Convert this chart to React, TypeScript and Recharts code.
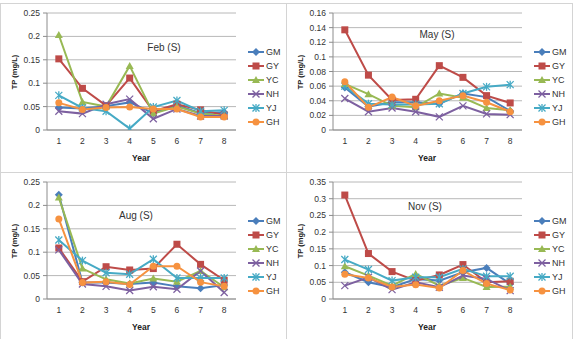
import React from 'react';
import { LineChart, Line, XAxis, YAxis, CartesianGrid, Legend } from 'recharts';

const years = [1, 2, 3, 4, 5, 6, 7, 8];
const seriesNames = ['GM', 'GY', 'YC', 'NH', 'YJ', 'GH'];
const boundaryTicks = [0.5, 1.5, 2.5, 3.5, 4.5, 5.5, 6.5, 7.5, 8.5];

// Feb (S)
const febGM = [0.048, 0.046, 0.051, 0.059, 0.036, 0.053, 0.036, 0.038];
const febGY = [0.152, 0.089, 0.052, 0.111, 0.04, 0.055, 0.043, 0.032];
const febYC = [0.203, 0.06, 0.05, 0.137, 0.035, 0.05, 0.035, 0.03];
const febNH = [0.04, 0.035, 0.055, 0.066, 0.024, 0.045, 0.03, 0.03];
const febYJ = [0.074, 0.047, 0.04, 0.003, 0.049, 0.063, 0.04, 0.042];
const febGH = [0.058, 0.044, 0.048, 0.049, 0.045, 0.045, 0.028, 0.028];

// May (S)
const mayGM = [0.058, 0.032, 0.038, 0.038, 0.036, 0.05, 0.045, 0.026];
const mayGY = [0.137, 0.075, 0.041, 0.042, 0.088, 0.072, 0.047, 0.037];
const mayYC = [0.063, 0.049, 0.033, 0.031, 0.05, 0.044, 0.03, 0.027];
const mayNH = [0.043, 0.025, 0.03, 0.025, 0.018, 0.033, 0.022, 0.021];
const mayYJ = [0.06, 0.036, 0.035, 0.035, 0.036, 0.05, 0.059, 0.062];
const mayGH = [0.066, 0.031, 0.045, 0.033, 0.04, 0.047, 0.038, 0.025];

// Aug (S)
const augGM = [0.223, 0.035, 0.035, 0.032, 0.035, 0.027, 0.023, 0.03];
const augGY = [0.109, 0.037, 0.069, 0.062, 0.065, 0.117, 0.074, 0.04];
const augYC = [0.217, 0.065, 0.042, 0.033, 0.044, 0.037, 0.06, 0.025];
const augNH = [0.105, 0.032, 0.027, 0.018, 0.026, 0.021, 0.06, 0.014];
const augYJ = [0.126, 0.082, 0.056, 0.053, 0.085, 0.045, 0.045, 0.045];
const augGH = [0.171, 0.035, 0.037, 0.031, 0.07, 0.07, 0.036, 0.027];

// Nov (S)
const novGM = [0.08, 0.05, 0.035, 0.06, 0.055, 0.08, 0.093, 0.045];
const novGY = [0.311, 0.136, 0.082, 0.055, 0.072, 0.103, 0.05, 0.053];
const novYC = [0.098, 0.07, 0.04, 0.075, 0.04, 0.063, 0.036, 0.037];
const novNH = [0.04, 0.065, 0.028, 0.05, 0.035, 0.07, 0.06, 0.025];
const novYJ = [0.118, 0.088, 0.055, 0.065, 0.065, 0.09, 0.068, 0.068];
const novGH = [0.074, 0.063, 0.036, 0.043, 0.033, 0.085, 0.046, 0.027];

const febTicks = [0, 0.05, 0.1, 0.15, 0.2, 0.25];
const mayTicks = [0, 0.02, 0.04, 0.06, 0.08, 0.1, 0.12, 0.14, 0.16];
const augTicks = [0, 0.05, 0.1, 0.15, 0.2, 0.25];
const novTicks = [0, 0.05, 0.1, 0.15, 0.2, 0.25, 0.3, 0.35];

const COLORS = ['#4A7EBB', '#BE4B48', '#98B954', '#7D60A0', '#46AAC5', '#F69240'];
const SHAPES = ['diamond', 'square', 'triangle', 'x', 'star', 'circle'];
const FONT = '"Liberation Sans", Arial, sans-serif';
const AXIS_COLOR = '#8c8c8c';
const GRID_COLOR = '#b8b8b8';

function Marker({ cx, cy, shape, color }: { cx?: number; cy?: number; shape: string; color: string }) {
  if (cx == null || cy == null || isNaN(cx) || isNaN(cy)) return null;
  switch (shape) {
    case 'diamond':
      return <polygon points={`${cx},${cy - 4} ${cx + 4},${cy} ${cx},${cy + 4} ${cx - 4},${cy}`} fill={color} />;
    case 'square':
      return <rect x={cx - 3.5} y={cy - 3.5} width={7} height={7} fill={color} />;
    case 'triangle':
      return <polygon points={`${cx},${cy - 4} ${cx + 4},${cy + 3} ${cx - 4},${cy + 3}`} fill={color} />;
    case 'x':
      return (
        <g stroke={color} strokeWidth={1.3}>
          <line x1={cx - 3.5} y1={cy - 3.5} x2={cx + 3.5} y2={cy + 3.5} />
          <line x1={cx - 3.5} y1={cy + 3.5} x2={cx + 3.5} y2={cy - 3.5} />
        </g>
      );
    case 'star':
      return (
        <g stroke={color} strokeWidth={1.3}>
          <line x1={cx - 3.5} y1={cy - 3.5} x2={cx + 3.5} y2={cy + 3.5} />
          <line x1={cx - 3.5} y1={cy + 3.5} x2={cx + 3.5} y2={cy - 3.5} />
          <line x1={cx} y1={cy - 4} x2={cx} y2={cy + 4} />
        </g>
      );
    default:
      return <circle cx={cx} cy={cy} r={3.5} fill={color} />;
  }
}

const legendContent = () => (
  <div style={{ fontFamily: FONT }}>
    {seriesNames.map((n, i) => (
      <div key={n} style={{ display: 'flex', alignItems: 'center', height: 14 }}>
        <svg width={16} height={10} style={{ display: 'block' }}>
          <line x1={0} y1={5} x2={16} y2={5} stroke={COLORS[i]} strokeWidth={2} />
          <Marker cx={8} cy={5} shape={SHAPES[i]} color={COLORS[i]} />
        </svg>
        <span style={{ marginLeft: 2, fontSize: 9, color: '#333', lineHeight: '10px' }}>{n}</span>
      </div>
    ))}
  </div>
);

type PanelProps = {
  left: number;
  top: number;
  width: number;
  height: number;
  title: string;
  titleX: number;
  titleY: number;
  yMax: number;
  yTicks: number[];
  values: number[][];
};

function Panel({ left, top, width, height, title, titleX, titleY, yMax, yTicks, values }: PanelProps) {
  const data = years.map((y, i) => {
    const row: Record<string, number> = { year: y };
    seriesNames.forEach((n, s) => {
      row[n] = values[s][i];
    });
    return row;
  });
  const innerW = width - 2;
  const innerH = height - 2;
  return (
    <div
      style={{
        position: 'absolute',
        left,
        top,
        width,
        height,
        boxSizing: 'border-box',
        border: '1px solid #d4d4d4',
        fontFamily: FONT,
      }}
    >
      <LineChart
        width={innerW}
        height={innerH}
        data={data}
        margin={{ top: 9, right: innerW - 235, bottom: innerH - 126 - 30, left: 6 }}
      >
        <CartesianGrid vertical={false} stroke={GRID_COLOR} />
        <XAxis
          xAxisId="m"
          type="number"
          domain={[0.5, 8.5]}
          ticks={boundaryTicks}
          tick={false}
          tickSize={4}
          axisLine={false}
          tickLine={{ stroke: AXIS_COLOR }}
          height={0}
          interval={0}
          allowDataOverflow
        />
        <XAxis
          dataKey="year"
          type="number"
          domain={[0.5, 8.5]}
          ticks={years}
          interval={0}
          tickLine={false}
          tickSize={6}
          tickMargin={2}
          axisLine={{ stroke: AXIS_COLOR }}
          tick={{ fontSize: 8.5, fill: '#333', fontFamily: FONT }}
          height={30}
          allowDataOverflow
        />
        <YAxis
          type="number"
          domain={[0, yMax]}
          ticks={yTicks}
          interval={0}
          width={40}
          tickSize={4}
          tickMargin={3}
          axisLine={{ stroke: AXIS_COLOR }}
          tickLine={{ stroke: AXIS_COLOR }}
          tick={{ fontSize: 8.5, fill: '#333', fontFamily: FONT }}
          allowDataOverflow
        />
        <Legend
          layout="vertical"
          align="center"
          verticalAlign="middle"
          content={legendContent}
          wrapperStyle={{ left: 247, top: 41, width: 40 }}
        />
        {seriesNames.map((n, s) => (
          <Line
            key={n}
            dataKey={n}
            stroke={COLORS[s]}
            strokeWidth={2}
            isAnimationActive={false}
            dot={(p: any) => <Marker key={`${n}-${p.index}`} cx={p.cx} cy={p.cy} shape={SHAPES[s]} color={COLORS[s]} />}
            activeDot={false}
          />
        ))}
      </LineChart>
      <div
        style={{
          position: 'absolute',
          left: titleX - 40,
          top: titleY - 7,
          width: 80,
          textAlign: 'center',
          fontSize: 10,
          lineHeight: '14px',
          color: '#333',
        }}
      >
        {title}
      </div>
      <div
        style={{
          position: 'absolute',
          left: 14 - 40,
          top: 68 - 6,
          width: 80,
          height: 12,
          textAlign: 'center',
          fontSize: 7.5,
          fontWeight: 'bold',
          lineHeight: '12px',
          color: '#222',
          transform: 'rotate(-90deg)',
        }}
      >
        TP (mg/L)
      </div>
      <div
        style={{
          position: 'absolute',
          left: 140 - 30,
          top: 154 - 6,
          width: 60,
          textAlign: 'center',
          fontSize: 8.5,
          fontWeight: 'bold',
          lineHeight: '12px',
          color: '#222',
        }}
      >
        Year
      </div>
    </div>
  );
}

export default function App() {
  return (
    <div style={{ position: 'fixed', left: 0, top: 0, width: 574, height: 339, background: '#fff', overflow: 'hidden' }}>
      <Panel
        left={0}
        top={3}
        width={287}
        height={170}
        title="Feb (S)"
        titleX={163}
        titleY={44}
        yMax={0.25}
        yTicks={febTicks}
        values={[febGM, febGY, febYC, febNH, febYJ, febGH]}
      />
      <Panel
        left={286}
        top={3}
        width={287}
        height={170}
        title="May (S)"
        titleX={150}
        titleY={31}
        yMax={0.16}
        yTicks={mayTicks}
        values={[mayGM, mayGY, mayYC, mayNH, mayYJ, mayGH]}
      />
      <Panel
        left={0}
        top={172}
        width={287}
        height={168}
        title="Aug (S)"
        titleX={135}
        titleY={43}
        yMax={0.25}
        yTicks={augTicks}
        values={[augGM, augGY, augYC, augNH, augYJ, augGH]}
      />
      <Panel
        left={286}
        top={172}
        width={287}
        height={168}
        title="Nov (S)"
        titleX={138}
        titleY={34}
        yMax={0.35}
        yTicks={novTicks}
        values={[novGM, novGY, novYC, novNH, novYJ, novGH]}
      />
    </div>
  );
}
